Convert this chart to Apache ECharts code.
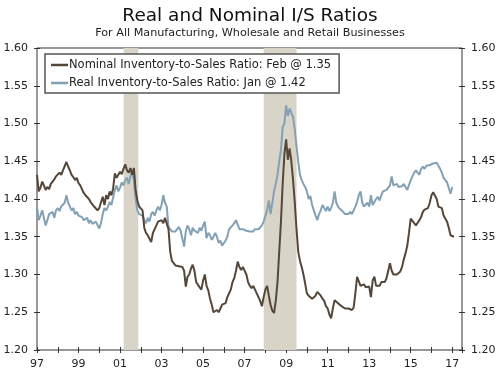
<!DOCTYPE html>
<html>
<head>
<meta charset="utf-8">
<script src="https://cdn.jsdelivr.net/npm/echarts@6/dist/echarts.min.js"></script>
<style>
  html, body { margin: 0; padding: 0; background: #fff; }
  #main { width: 500px; height: 376px; }
</style>
</head>
<body>
<div id="main"></div>
<script>
// monthly data, starts Jan 1997
var startYear = 1997;

var nominalName = "Nominal Inventory-to-Sales Ratio: Feb @ 1.35";
var realName = "Real Inventory-to-Sales Ratio: Jan @ 1.42";

var nominal = [
  1.432, 1.410, 1.415, 1.423, 1.418, 1.412, 1.416, 1.413, 1.420, 1.418, 1.426, 1.430,
  1.428, 1.435, 1.432, 1.438, 1.436, 1.449, 1.443, 1.438, 1.432, 1.429, 1.425, 1.428,
  1.421, 1.418, 1.420, 1.408, 1.405, 1.403, 1.400, 1.396, 1.398, 1.390, 1.392, 1.385,
  1.388, 1.386, 1.403, 1.392, 1.405, 1.400, 1.410, 1.405, 1.414, 1.434, 1.428, 1.432,
  1.436, 1.433, 1.440, 1.446, 1.438, 1.435, 1.441, 1.432, 1.441, 1.412, 1.398, 1.390,
  1.390, 1.385, 1.362, 1.355, 1.352, 1.350, 1.343, 1.355, 1.360, 1.365, 1.370, 1.368,
  1.372, 1.368, 1.375, 1.377, 1.360, 1.330, 1.318, 1.315, 1.312, 1.310, 1.311, 1.310,
  1.310, 1.305, 1.284, 1.297, 1.300, 1.308, 1.313, 1.305, 1.290, 1.292, 1.283, 1.280,
  1.292, 1.300, 1.285, 1.279, 1.268, 1.260, 1.250, 1.248, 1.253, 1.250, 1.255, 1.260,
  1.258, 1.262, 1.270, 1.275, 1.280, 1.290, 1.295, 1.305, 1.317, 1.310, 1.306, 1.310,
  1.308, 1.300, 1.290, 1.285, 1.282, 1.285, 1.280, 1.275, 1.270, 1.265, 1.258, 1.270,
  1.280, 1.285, 1.272, 1.260, 1.252, 1.249, 1.265, 1.290, 1.330, 1.370, 1.420, 1.460,
  1.479, 1.452, 1.467, 1.450, 1.425, 1.395, 1.360, 1.330, 1.318, 1.310, 1.300, 1.288,
  1.275, 1.272, 1.274, 1.268, 1.270, 1.272, 1.277, 1.279, 1.272, 1.268, 1.265, 1.258,
  1.255, 1.247, 1.242, 1.255, 1.266, 1.264, 1.262, 1.262, 1.258, 1.256, 1.255, 1.254,
  1.255, 1.253, 1.253, 1.256, 1.275, 1.297, 1.295, 1.285, 1.283, 1.287, 1.283, 1.285,
  1.284, 1.270, 1.292, 1.297, 1.285, 1.287, 1.285, 1.290, 1.292, 1.290, 1.295, 1.293,
  1.315, 1.305, 1.300, 1.301, 1.300, 1.302, 1.304, 1.310, 1.320, 1.328, 1.338, 1.355,
  1.374, 1.375, 1.368, 1.365, 1.366, 1.372, 1.376, 1.383, 1.386, 1.388, 1.388, 1.395,
  1.405, 1.409, 1.410, 1.400, 1.390, 1.392, 1.388, 1.378, 1.380, 1.370, 1.362, 1.352,
  1.351, 1.350
];

var real = [
  1.390, 1.372, 1.378, 1.385, 1.375, 1.365, 1.372, 1.380, 1.378, 1.383, 1.375, 1.385,
  1.388, 1.384, 1.390, 1.392, 1.395, 1.405, 1.395, 1.390, 1.385, 1.388, 1.380, 1.383,
  1.378, 1.380, 1.376, 1.372, 1.370, 1.375, 1.368, 1.372, 1.367, 1.365, 1.370, 1.368,
  1.361, 1.368, 1.380, 1.388, 1.385, 1.390, 1.396, 1.392, 1.402, 1.412, 1.418, 1.410,
  1.415, 1.422, 1.418, 1.425, 1.428, 1.420, 1.430, 1.436, 1.425, 1.400, 1.385, 1.380,
  1.380, 1.378, 1.372, 1.368, 1.375, 1.370, 1.380, 1.383, 1.378, 1.385, 1.390, 1.385,
  1.392, 1.405, 1.395, 1.390, 1.363, 1.360, 1.357, 1.358, 1.357, 1.360, 1.363, 1.358,
  1.360, 1.337, 1.357, 1.365, 1.360, 1.352, 1.362, 1.358, 1.360, 1.355, 1.362, 1.358,
  1.365, 1.370, 1.348, 1.355, 1.352, 1.346, 1.350, 1.355, 1.350, 1.342, 1.345, 1.338,
  1.337, 1.345, 1.350, 1.360, 1.358, 1.365, 1.368, 1.372, 1.370, 1.360, 1.362, 1.360,
  1.361, 1.358, 1.360, 1.357, 1.355, 1.357, 1.360, 1.358, 1.360, 1.362, 1.365, 1.370,
  1.370, 1.385, 1.398, 1.380, 1.395, 1.410, 1.420, 1.432, 1.450, 1.465, 1.495, 1.500,
  1.524, 1.510, 1.520, 1.518, 1.508, 1.492, 1.470, 1.449, 1.432, 1.425, 1.420, 1.416,
  1.410, 1.400, 1.404, 1.392, 1.385, 1.378, 1.372, 1.380, 1.385, 1.392, 1.388, 1.384,
  1.390, 1.384, 1.388, 1.395, 1.410, 1.395, 1.390, 1.387, 1.385, 1.383, 1.380, 1.382,
  1.380, 1.383, 1.380, 1.385, 1.390, 1.396, 1.405, 1.410, 1.395, 1.390, 1.388, 1.395,
  1.390, 1.405, 1.392, 1.396, 1.400, 1.403, 1.398, 1.405, 1.410, 1.408, 1.412, 1.410,
  1.418, 1.430, 1.418, 1.418, 1.420, 1.416, 1.418, 1.417, 1.420, 1.418, 1.412, 1.413,
  1.425, 1.423, 1.435, 1.438, 1.436, 1.432, 1.440, 1.443, 1.440, 1.444, 1.442, 1.445,
  1.443, 1.447, 1.445, 1.448, 1.449, 1.440, 1.435, 1.428, 1.425, 1.422, 1.420, 1.407,
  1.416
];

// recessions, in fractional years
var recessions = [[2001.17, 2001.88], [2007.92, 2009.5]];

var yTicks = [1.20, 1.60, 0.05];

function toPoints(vals) {
  return vals.map(function (v, i) { return [startYear + i / 12, v]; });
}

var font = "DejaVu Sans";
var ink = "#222";

function xLabel(v) {
  if (Math.abs(v - Math.round(v)) > 1e-6) return "";
  var y = Math.round(v);
  if (y % 2 === 0) return "";
  return String(y % 100).padStart(2, "0");
}

function yAxisCfg(pos) {
  return {
    type: "value",
    position: pos,
    min: yTicks[0],
    max: yTicks[1],
    interval: yTicks[2],
    offset: -3,
    axisLine: { show: false },
    axisTick: { show: true, length: 6, lineStyle: { color: "#333", width: 1 } },
    axisLabel: {
      margin: 12,
      color: ink,
      fontFamily: font,
      fontSize: 11,
      formatter: function (v) { return v.toFixed(2); }
    },
    splitLine: { show: false }
  };
}

var chartDom = document.getElementById("main");
var myChart = echarts.init(chartDom, null, { renderer: "canvas" });

var option = {
  animation: false,
  backgroundColor: "#fff",
  title: [
    {
      text: "Real and Nominal I/S Ratios",
      left: "center",
      top: 2,
      textStyle: { fontFamily: font, fontSize: 18.5, fontWeight: "normal", color: "#111" }
    },
    {
      text: "For All Manufacturing, Wholesale and Retail Businesses",
      left: "center",
      top: 23,
      textStyle: { fontFamily: font, fontSize: 11.2, fontWeight: "normal", color: ink }
    }
  ],
  legend: {
    orient: "vertical",
    left: 45,
    top: 54,
    padding: [5, 8, 4, 6],
    itemGap: 6,
    itemWidth: 17,
    itemHeight: 2.5,
    backgroundColor: "#fff",
    borderColor: "#555",
    borderWidth: 1.5,
    borderRadius: 0,
    textStyle: { fontFamily: font, fontSize: 11.5, color: ink, padding: [0, 0, 0, -4] },
    data: [
      { name: nominalName, icon: "rect" },
      { name: realName, icon: "rect" }
    ]
  },
  grid: {
    left: 37,
    right: 38,
    top: 48,
    bottom: 26,
    containLabel: false,
    outerBoundsMode: "none",
    show: true,
    borderColor: "#333",
    borderWidth: 1,
    backgroundColor: "transparent"
  },
  xAxis: {
    type: "value",
    min: startYear,
    max: 2017.47,
    interval: 1,
    offset: -3,
    axisLine: { show: false },
    axisTick: { show: true, length: 6, lineStyle: { color: "#333", width: 1 } },
    axisLabel: {
      margin: 12,
      color: ink,
      fontFamily: font,
      fontSize: 11,
      formatter: xLabel
    },
    splitLine: { show: false }
  },
  yAxis: [yAxisCfg("left"), yAxisCfg("right")],
  series: [
    {
      name: nominalName,
      type: "line",
      data: toPoints(nominal),
      showSymbol: false,
      z: 3,
      color: "#55463a",
      lineStyle: { width: 2, color: "#55463a" },
      markArea: {
        silent: true,
        itemStyle: { color: "#d9d4c8", opacity: 1 },
        data: recessions.map(function (r) { return [{ xAxis: r[0] }, { xAxis: r[1] }]; })
      }
    },
    {
      name: realName,
      type: "line",
      data: toPoints(real),
      showSymbol: false,
      z: 2,
      color: "#83a1b5",
      lineStyle: { width: 2, color: "#83a1b5" }
    }
  ]
};

option && myChart.setOption(option);
</script>
</body>
</html>
